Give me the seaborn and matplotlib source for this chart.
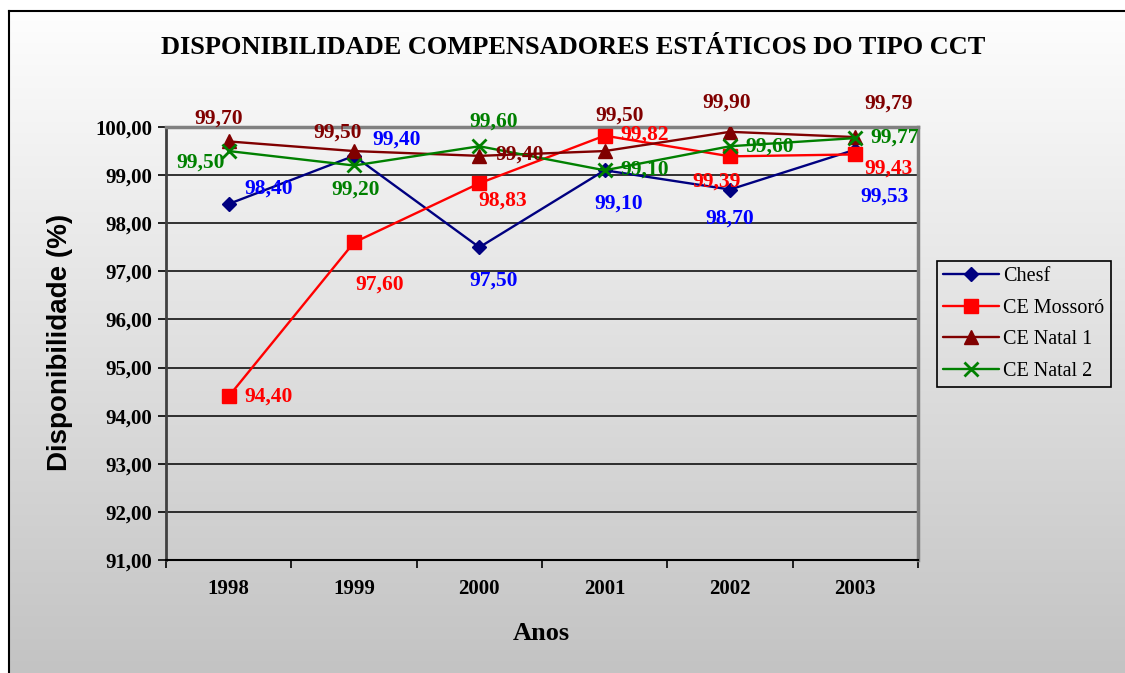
import numpy as np
import pandas as pd
import matplotlib
matplotlib.use("Agg")
import matplotlib.pyplot as plt
from matplotlib.ticker import FuncFormatter, FixedLocator
import seaborn as sns

anos = ["1998", "1999", "2000", "2001", "2002", "2003"]
chesf = [98.40, 99.40, 97.50, 99.10, 98.70, 99.53]
ce_mossoro = [94.40, 97.60, 98.83, 99.82, 99.39, 99.43]
ce_natal1 = [99.70, 99.50, 99.40, 99.50, 99.90, 99.79]
ce_natal2 = [99.50, 99.20, 99.60, 99.10, 99.60, 99.77]
series_names = ["Chesf", "CE Mossoró", "CE Natal 1", "CE Natal 2"]

# styles
line_colors = ["#000080", "#FF0000", "#800000", "#008000"]
label_colors = ["#0000FF", "#FF0000", "#800000", "#008000"]
markers = ["D", "s", "^", "x"]
msizes = [7.5, 10.5, 10, 10]
# label offsets in pixels (dx, dy) from each point
offsets = [
    [(40, 15), (43, 16), (14, -33), (14, -33), (0, -29), (29, -47)],
    [(40, 0), (26, -42), (23, -17), (40, 1), (-13, -25), (33, -14)],
    [(-10, 23), (-16, 18), (40, 1), (15, 35), (-3, 29), (33, 34)],
    [(-28, -12), (2, -24), (14, 25), (40, 1), (40, 0), (39, 0)],
]

df = pd.DataFrame({"Ano": anos * 4,
                   "pos": list(range(6)) * 4,
                   "Serie": sum([[n] * 6 for n in series_names], []),
                   "Valor": chesf + ce_mossoro + ce_natal1 + ce_natal2})

sns.set_style("white")
plt.rcParams["font.family"] = ["Liberation Serif", "DejaVu Serif"]
plt.rcParams["text.color"] = "black"
plt.rcParams["xtick.color"] = "black"
plt.rcParams["ytick.color"] = "black"

fig = plt.figure(figsize=(11.25, 6.73), dpi=100)
fig.patch.set_facecolor("white")

# gradient background box
bg = fig.add_axes([9 / 1125, 0, 1 - 9 / 1125, 1 - 11 / 673], zorder=-5)
grad = np.linspace(0, 1, 256).reshape(-1, 1)
top, bot = np.array([0.995, 0.995, 0.995]), np.array([0.765, 0.765, 0.765])
img = top + (bot - top) * grad[..., None]
bg.imshow(img, aspect="auto", extent=[0, 1, 0, 1], origin="upper")
bg.set_xlim(0, 1)
bg.set_ylim(0, 1)
bg.set_xticks([])
bg.set_yticks([])
for s in ["right", "bottom"]:
    bg.spines[s].set_visible(False)
for s in ["left", "top"]:
    bg.spines[s].set_color("black")
    bg.spines[s].set_linewidth(1.5)

ax = fig.add_axes([166 / 1125, 1 - 560 / 673, (918 - 166) / 1125, (560 - 127) / 673])
ax.set_facecolor("none")

vals = [chesf, ce_mossoro, ce_natal1, ce_natal2]
for i, name in enumerate(series_names):
    sub = df[df["Serie"] == name]
    sns.lineplot(data=sub, x="pos", y="Valor", ax=ax, color=line_colors[i],
                 marker=markers[i], markersize=msizes[i], linewidth=1.7,
                 markeredgecolor=line_colors[i], markeredgewidth=2 if markers[i] == "x" else 1,
                 label=name, zorder=3 + i)
    for j, v in enumerate(vals[i]):
        dx, dy = offsets[i][j]
        ax.annotate(f"{v:.2f}".replace(".", ","), (j, v), xytext=(dx, dy),
                    textcoords="offset pixels", ha="center", va="center",
                    color=label_colors[i], fontsize=15.5, fontweight="bold", zorder=10)

ax.set_xlim(-0.5, 5.5)
ax.set_ylim(91, 100)
ax.yaxis.set_major_locator(FixedLocator(np.arange(91, 100.5, 1)))
ax.yaxis.set_major_formatter(FuncFormatter(lambda v, p: f"{v:.2f}".replace(".", ",")))
ax.grid(axis="y", color="black", linewidth=1.1)
ax.set_axisbelow(True)

ax.set_xticks(np.arange(-0.5, 6, 1))
ax.set_xticklabels([])
ax.set_xticks(np.arange(6), minor=True)
ax.set_xticklabels(anos, minor=True)
ax.tick_params(axis="x", which="major", direction="out", length=6, width=1.2, color="black", bottom=True)
ax.tick_params(axis="x", which="minor", length=0, pad=14, labelsize=15)
ax.tick_params(axis="y", direction="out", length=6, width=1.2, color="black", left=True, labelsize=15, pad=4)
for lab in ax.get_xticklabels(minor=True) + ax.get_yticklabels():
    lab.set_fontweight("bold")

ax.spines["left"].set_color("#404040")
ax.spines["left"].set_linewidth(2)
ax.spines["bottom"].set_color("black")
ax.spines["bottom"].set_linewidth(1.5)
for s in ["top", "right"]:
    ax.spines[s].set_color("#808080")
    ax.spines[s].set_linewidth(2.5)

ax.set_xlabel("")
ax.set_ylabel("")
fig.text(541 / 1125, 1 - 633 / 673, "Anos", ha="center", va="center",
         fontsize=19, fontweight="bold")
fig.text(60 / 1125, 1 - 342 / 673, "Disponibilidade (%)", ha="center", va="center",
         rotation=90, fontsize=20, fontweight="bold", family=["Liberation Sans", "DejaVu Sans"])
fig.text(573 / 1125, 1 - 47 / 673, "DISPONIBILIDADE COMPENSADORES ESTÁTICOS DO TIPO CCT",
         ha="center", va="center", fontsize=19, fontweight="bold")

leg = ax.legend(loc="upper left", bbox_to_anchor=(937 / 1125, 1 - 261 / 673),
                bbox_transform=fig.transFigure, frameon=True, fancybox=False,
                facecolor="none", edgecolor="black", fontsize=14.5, handlelength=2.8,
                borderpad=0.3, labelspacing=0.62, handletextpad=0.2, borderaxespad=0)
leg.get_frame().set_linewidth(1.2)
leg.get_frame().set_alpha(None)

fig.savefig("out.png", dpi=100)
